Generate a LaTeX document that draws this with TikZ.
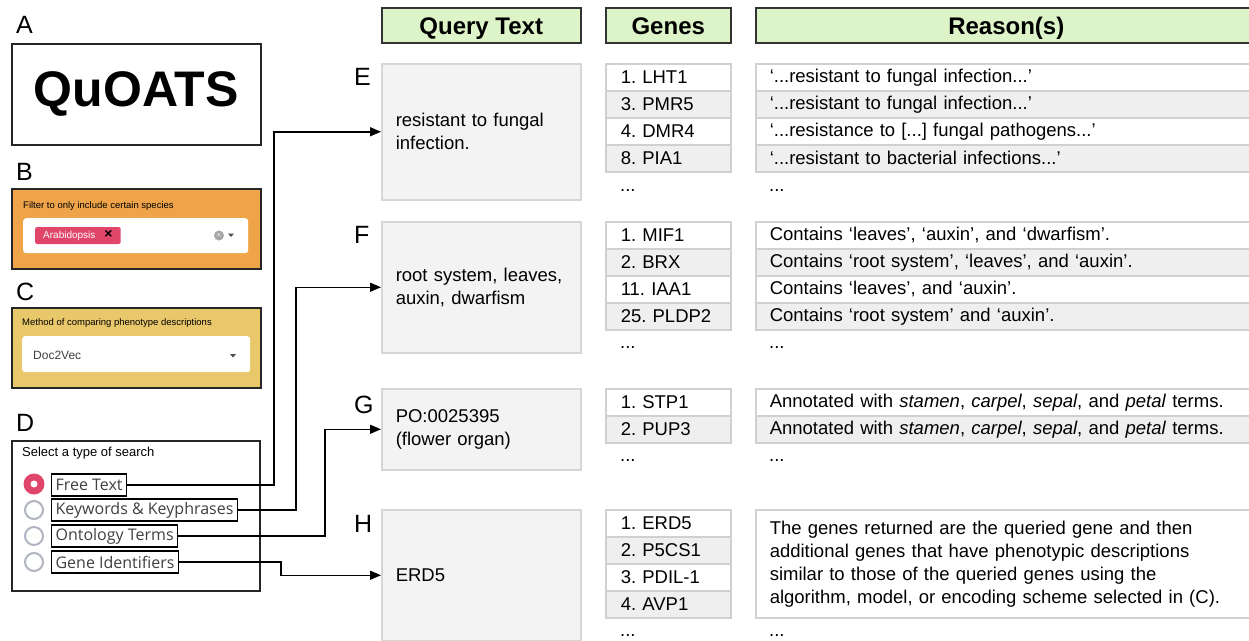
\documentclass[tikz,border=0pt]{standalone}
\usepackage{fontspec}
\setmainfont{Liberation Sans}
\newfontfamily\uifont{Open Sans}
\usetikzlibrary{arrows.meta,positioning}
\definecolor{hdrgreen}{RGB}{221,243,200}
\definecolor{qfill}{RGB}{243,243,243}
\definecolor{qborder}{RGB}{214,214,214}
\definecolor{rowgray}{RGB}{239,239,239}
\definecolor{rowborder}{RGB}{208,208,208}
\definecolor{filtorange}{RGB}{239,164,74}
\definecolor{methyellow}{RGB}{233,200,107}
\definecolor{tagred}{RGB}{224,70,106}
\definecolor{radiogray}{RGB}{176,180,194}
\newcommand{\fsz}[2]{\fontsize{#1}{#2}\selectfont}
\frenchspacing

\begin{document}
\begin{tikzpicture}[x=1pt,y=-1pt,
    panel/.style={font=\fsz{25}{30}, anchor=base west, inner sep=0},
    frame/.style={draw=black!85, line width=1.5pt, anchor=north west, inner sep=0},
    hdr/.style={draw=black!80, line width=1.5pt, fill=hdrgreen, anchor=north west,
        minimum height=35, inner sep=0, text height=17.5, text depth=0, font=\bfseries\fsz{24}{28}},
    query/.style={draw=qborder, line width=1.5pt, fill=qfill, anchor=north west,
        minimum width=199, text width=171, inner xsep=14, align=left, font=\fsz{18.5}{23}},
    generow/.style={draw=rowborder, line width=1.5pt, anchor=north west, minimum width=125,
        minimum height=27, text width=95, inner xsep=15, inner ysep=0, align=left, font=\fsz{18.5}{22}},
    reasonrow/.style={generow, minimum width=501, text width=473, inner xsep=14},
    more/.style={anchor=base west, inner sep=0, font=\fsz{18.5}{22}},
    small/.style={anchor=west, inner sep=0, font=\fsz{9.5}{12}},
    opt/.style={draw=black, line width=1.2pt, anchor=west, inner xsep=4, inner ysep=0,
        minimum height=22, text=black!75, font=\uifont\fsz{16}{18}},
    radio/.style={circle, draw=radiogray, line width=2pt, fill=white, minimum size=18, inner sep=0},
    link/.style={-{Triangle[length=11pt,width=9pt]}, line width=1.5pt}]
    \useasboundingbox (0,0) rectangle (1249,640);

    % left side: A-D
    \node[panel] (lA) at (16,33) {A};
    \node[frame, minimum width=249, minimum height=101, font=\bfseries\fsz{50}{56}] (logo) at (11,43) {QuOATS};

    \node[panel] (lB) at (16,180) {B};
    \node[frame, fill=filtorange, minimum width=249, minimum height=80] (filt) at (11,188) {};
    \node[small] (filtlbl) at (23,206) {Filter to only include certain species};
    \node[fill=white, rounded corners=3pt, anchor=north west, minimum width=225, minimum height=35, inner sep=0] (filtbox) at (23,218) {};
    \node[fill=tagred, rounded corners=2pt, anchor=west, minimum height=17, inner xsep=8, inner ysep=0, font=\fsz{10}{12}] (tag)
        at (35,235.5) {\textcolor{white}{Arabidopsis}\hspace{9pt}{\fsz{14}{14}\textbf{×}}};
    \node[circle, fill=black!35, minimum size=10, inner sep=0, text=white, font=\fsz{7}{7}] (clr) at (219,235.5) {×};
    \fill[black!70] (228,233.5) -- (234,233.5) -- (231,237) -- cycle;

    \node[panel] (lC) at (16,300) {C};
    \node[frame, fill=methyellow, minimum width=249, minimum height=80] (meth) at (11,307) {};
    \node[small] (methlbl) at (22,323) {Method of comparing phenotype descriptions};
    \node[fill=white, rounded corners=3pt, anchor=north west, minimum width=228, minimum height=36, inner sep=0] (methbox) at (22,336) {};
    \node[anchor=west, inner sep=0, text=black!75, font=\fsz{12}{15}] (doc) at (33,355) {Doc2Vec};
    \fill[black!70] (230,354) -- (236,354) -- (233,357.5) -- cycle;

    \node[panel] (lD) at (16,431) {D};
    \node[frame, minimum width=248, minimum height=150] (srch) at (11,440) {};
    \node[anchor=west, inner sep=0, font=\fsz{13}{15}] (srchlbl) at (22,453) {Select a type of search};
    \node[circle, fill=tagred, minimum size=21, inner sep=0] (rad1) at (34,484) {};
    \fill[white] (rad1) circle (3.5);
    \node[radio] (rad2) at (34,510) {};
    \node[radio] (rad3) at (34,536) {};
    \node[radio] (rad4) at (34,562) {};
    \node[opt] (ft) at (51,485) {Free Text};
    \node[opt] (kw) at (51,510) {Keywords \& Keyphrases};
    \node[opt] (ot) at (51,536) {Ontology Terms};
    \node[opt] (gi) at (51,562) {Gene Identifiers};

    % column headers
    \node[hdr, minimum width=199] (hq) at (381,7) {Query Text};
    \node[hdr, minimum width=125] (hg) at (605,7) {Genes};
    \node[hdr, minimum width=501] (hr) at (755,7) {Reason(s)};

    % queries
    \node[panel] (lE) at (354,85) {E};
    \node[query, minimum height=136] (qE) at (381,63) {resistant to fungal\\infection.};
    \node[panel] (lF) at (354,243) {F};
    \node[query, minimum height=131] (qF) at (381,221) {root system, leaves,\\auxin, dwarfism};
    \node[panel] (lG) at (354,413) {G};
    \node[query, minimum height=81] (qG) at (381,388) {PO:0025395\\(flower organ)};
    \node[panel] (lH) at (354,532) {H};
    \node[query, minimum height=131] (qH) at (381,509) {ERD5};

    % results E
    \foreach \g/\r [count=\i] in {1. LHT1/{‘...resistant to fungal infection...’},
        3. PMR5/{‘...resistant to fungal infection...’},
        4. DMR4/{‘...resistance to [...] fungal pathogens...’},
        8. PIA1/{‘...resistant to bacterial infections...’}}{
        \ifodd\i\relax\def\rowfill{white}\else\def\rowfill{rowgray}\fi
        \node[generow, fill=\rowfill] (gE\i) at (605,36+27*\i) {\g};
        \node[reasonrow, fill=\rowfill] (rE\i) at (755,36+27*\i) {\r};
    }
    \node[more] (dgE) at (620,191) {...};
    \node[more] (drE) at (769,191) {...};

    % results F
    \foreach \g/\r [count=\i] in {1. MIF1/{Contains ‘leaves’, ‘auxin’, and ‘dwarfism’.},
        2. BRX/{Contains ‘root system’, ‘leaves’, and ‘auxin’.},
        11. IAA1/{Contains ‘leaves’, and ‘auxin’.},
        25. PLDP2/{Contains ‘root system’ and ‘auxin’.}}{
        \ifodd\i\relax\def\rowfill{white}\else\def\rowfill{rowgray}\fi
        \node[generow, fill=\rowfill] (gF\i) at (605,194+27*\i) {\g};
        \node[reasonrow, fill=\rowfill] (rF\i) at (755,194+27*\i) {\r};
    }
    \node[more] (dgF) at (620,348) {...};
    \node[more] (drF) at (769,348) {...};

    % results G
    \foreach \g [count=\i] in {1. STP1, 2. PUP3}{
        \ifodd\i\relax\def\rowfill{white}\else\def\rowfill{rowgray}\fi
        \node[generow, fill=\rowfill] (gG\i) at (605,361+27*\i) {\g};
        \node[reasonrow, fill=\rowfill] (rG\i) at (755,361+27*\i)
            {Annotated with \textit{stamen}, \textit{carpel}, \textit{sepal}, and \textit{petal} terms.};
    }
    \node[more] (dgG) at (620,461) {...};
    \node[more] (drG) at (769,461) {...};

    % results H
    \foreach \g [count=\i] in {1. ERD5, 2. P5CS1, 3. PDIL-1, 4. AVP1}{
        \ifodd\i\relax\def\rowfill{white}\else\def\rowfill{rowgray}\fi
        \node[generow, fill=\rowfill] (gH\i) at (605,482+27*\i) {\g};
    }
    \node[reasonrow, fill=white, minimum height=108, font=\fsz{18.5}{23}] (rH) at (755,509)
        {The genes returned are the queried gene and then\\additional genes that have phenotypic descriptions\\similar to those of the queried genes using the\\algorithm, model, or encoding scheme selected in (C).};
    \node[more] (dgH) at (620,636) {...};
    \node[more] (drH) at (769,636) {...};

    % search type -> query
    \draw[link] (ft.east) -| ([xshift=-107]qE.west) -- (qE.west);
    \draw[link] (kw.east) -| ([xshift=-85]qF.west) -- (qF.west);
    \draw[link] (ot.east) -| ([xshift=-56]qG.west) -- (qG.west);
    \draw[link] (gi.east) -| ([xshift=-100]qH.west) -- (qH.west);
\end{tikzpicture}
\end{document}
